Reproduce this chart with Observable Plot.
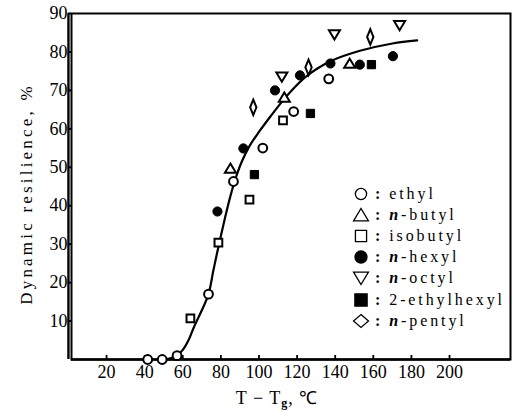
<!DOCTYPE html>
<html>
<head>
<meta charset="utf-8">
<script src="https://cdn.jsdelivr.net/npm/d3@7"></script>
<script src="https://cdn.jsdelivr.net/npm/@observablehq/plot@0.6"></script>
<style>
  html, body { margin: 0; padding: 0; background: #fff; }
  #wrap { position: relative; width: 515px; height: 411px; color: #000; font-family: "Times New Roman", "Liberation Serif", Times, serif; }
  #wrap svg.chart { position: absolute; left: 0; top: 0; }
  .ytitle { position: absolute; left: 27px; top: 194px; transform: translate(-50%, -50%) rotate(-90deg); white-space: nowrap; font-size: 17px; letter-spacing: 3.2px; }
  .xtitle { position: absolute; left: 277px; top: 398px; transform: translate(-50%, -50%); white-space: nowrap; font-size: 18px; letter-spacing: 1px; }
  .xtitle sub { font-size: 12px; font-weight: bold; vertical-align: -3px; }
  #legend { position: absolute; left: 352px; top: 183px; }
  .row { display: flex; align-items: center; height: 21.2px; font-size: 16px; letter-spacing: 2.9px; white-space: nowrap; }
  .row svg { width: 18px; height: 18px; flex: none; }
  .row .colon { margin-left: 5px; margin-right: 6px; font-weight: bold; }
  .row i { font-weight: bold; }
</style>
</head>
<body>
<div id="wrap"></div>
<script>
// ---- data ----
const seriesNames = ["ethyl", "n-butyl", "isobutyl", "n-hexyl", "n-octyl", "2-ethylhexyl", "n-pentyl"];

const ethylX = [41.6, 49.2, 57, 73.5, 86.6, 102, 118.2, 136.6];
const ethylY = [0, 0, 1, 17, 46.3, 55, 64.5, 73];

const nButylX = [85, 113.3, 147.6];
const nButylY = [49.7, 68.2, 77];

const isobutylX = [64, 78.7, 95, 112.6];
const isobutylY = [10.7, 30.4, 41.6, 62.2];

const nHexylX = [78.2, 91.8, 108.4, 121.5, 137.5, 152.9, 170.3];
const nHexylY = [38.5, 54.9, 70, 73.9, 77, 76.7, 78.9];

const nOctylX = [112, 139.6, 173.8];
const nOctylY = [73.5, 84.5, 86.9];

const ethylhexylX = [97.6, 127, 159];
const ethylhexylY = [48.1, 64, 76.7];

const nPentylX = [97, 126, 158.4];
const nPentylY = [65.6, 76, 83.9];

// fitted curve drawn in the figure
const curveX = [50, 54, 57, 60, 63, 66, 70, 73.5, 76, 79, 82, 85, 88, 91, 95, 100, 106, 112, 118, 124, 130, 138, 153, 170, 183];
const curveY = [0, 0.4, 1.1, 2.5, 5, 8.6, 12.8, 17, 23, 30, 36.5, 42.5, 47.5, 51.5, 55.5, 59.2, 63.2, 67, 70.4, 73.3, 75.5, 77.7, 80.3, 82.2, 83];

const xTicks = [20, 40, 60, 80, 100, 120, 140, 160, 180, 200];
const yTicks = [10, 20, 30, 40, 50, 60, 70, 80, 90];

// ---- symbols ----
function mk(fn) { return { draw(ctx, size) { const r = Math.sqrt(size / Math.PI); fn(ctx, r); } }; }
const shapes = {
  circle: (c, r) => { c.moveTo(r, 0); c.arc(0, 0, r, 0, 2 * Math.PI); c.closePath(); },
  triUp: (c, r) => { c.moveTo(0, -1.05 * r); c.lineTo(1.2 * r, 0.95 * r); c.lineTo(-1.2 * r, 0.95 * r); c.closePath(); },
  triDown: (c, r) => { c.moveTo(0, 1.05 * r); c.lineTo(1.2 * r, -0.95 * r); c.lineTo(-1.2 * r, -0.95 * r); c.closePath(); },
  square: (c, r) => { const s = 0.9 * r; c.moveTo(-s, -s); c.lineTo(s, -s); c.lineTo(s, s); c.lineTo(-s, s); c.closePath(); },
  tallDiamond: (c, r) => { c.moveTo(0, -1.75 * r); c.lineTo(0.72 * r, 0); c.lineTo(0, 1.75 * r); c.lineTo(-0.72 * r, 0); c.closePath(); },
  wideDiamond: (c, r) => { c.moveTo(0, -0.95 * r); c.lineTo(1.1 * r, 0); c.lineTo(0, 0.95 * r); c.lineTo(-1.1 * r, 0); c.closePath(); }
};

const series = [
  {name: seriesNames[0], xs: ethylX, ys: ethylY, shape: "circle", filled: false, r: 4.4, lshape: "circle", lr: 5.6},
  {name: seriesNames[1], xs: nButylX, ys: nButylY, shape: "triUp", filled: false, r: 4.6, lshape: "triUp", lr: 6.2},
  {name: seriesNames[2], xs: isobutylX, ys: isobutylY, shape: "square", filled: false, r: 4.3, lshape: "square", lr: 6.2},
  {name: seriesNames[3], xs: nHexylX, ys: nHexylY, shape: "circle", filled: true, r: 4.6, lshape: "circle", lr: 6},
  {name: seriesNames[4], xs: nOctylX, ys: nOctylY, shape: "triDown", filled: false, r: 4.6, lshape: "triDown", lr: 6.2},
  {name: seriesNames[5], xs: ethylhexylX, ys: ethylhexylY, shape: "square", filled: true, r: 4.6, lshape: "square", lr: 6.8},
  {name: seriesNames[6], xs: nPentylX, ys: nPentylY, shape: "tallDiamond", filled: false, r: 4.4, lshape: "wideDiamond", lr: 6.8}
];

const W = 515, H = 411, mTop = 13, mBottom = 52, mLeft = 71, mRight = 5;
const innerH = H - mTop - mBottom;

const marks = [];
marks.push(Plot.axisY({ticks: yTicks, tickSize: 3, tickPadding: 1, label: null, strokeWidth: 2}));
marks.push(Plot.axisX({ticks: xTicks, tickSize: 0, tickPadding: 6, label: null}));
marks.push(Plot.tickX(xTicks, {x: d => d, insetTop: innerH - 4, strokeWidth: 1.8}));
marks.push(Plot.frame({strokeWidth: 2}));
marks.push(Plot.ruleX([0], {strokeWidth: 2.4}));
marks.push(Plot.ruleY([0], {strokeWidth: 2.4}));
marks.push(Plot.line(curveX.map((x, i) => ({x, y: curveY[i]})), {x: "x", y: "y", curve: "catmull-rom", strokeWidth: 2.2, stroke: "#000"}));
for (const s of series) {
  const data = s.xs.map((x, i) => ({x, y: s.ys[i]}));
  marks.push(Plot.dot(data, {
    x: "x", y: "y", r: s.r, symbol: mk(shapes[s.shape]),
    fill: s.filled ? "#000" : "#fff", stroke: "#000", strokeWidth: s.filled ? 1 : 2
  }));
}

const chart = Plot.plot({
  width: W, height: H,
  marginTop: mTop, marginBottom: mBottom, marginLeft: mLeft, marginRight: mRight,
  x: {domain: [1.6, 232]},
  y: {domain: [0, 90]},
  style: {fontFamily: "'Times New Roman', 'Liberation Serif', Times, serif", fontSize: "18px", color: "#000", background: "#fff"},
  marks
});
chart.classList.add("chart");

const wrap = document.getElementById("wrap");
wrap.appendChild(chart);

const yt = document.createElement("div");
yt.className = "ytitle";
yt.textContent = "Dynamic resilience, %";
wrap.appendChild(yt);

const xt = document.createElement("div");
xt.className = "xtitle";
xt.innerHTML = "T − T<sub>g</sub>, ℃";
wrap.appendChild(xt);

const legend = document.createElement("div");
legend.id = "legend";
for (const s of series) {
  const row = document.createElement("div");
  row.className = "row";
  const p = d3.path();
  shapes[s.lshape](p, s.lr);
  const svg = d3.create("svg").attr("viewBox", "-9 -9 18 18");
  svg.append("path").attr("d", p.toString())
    .attr("fill", s.filled ? "#000" : "none").attr("stroke", "#000").attr("stroke-width", 1.3);
  row.appendChild(svg.node());
  const colon = document.createElement("span");
  colon.className = "colon";
  colon.textContent = ":";
  row.appendChild(colon);
  const label = document.createElement("span");
  if (s.name.startsWith("n-")) {
    label.innerHTML = "<i>n</i>-" + s.name.slice(2);
  } else {
    label.textContent = s.name;
  }
  row.appendChild(label);
  legend.appendChild(row);
}
wrap.appendChild(legend);
</script>
</body>
</html>
